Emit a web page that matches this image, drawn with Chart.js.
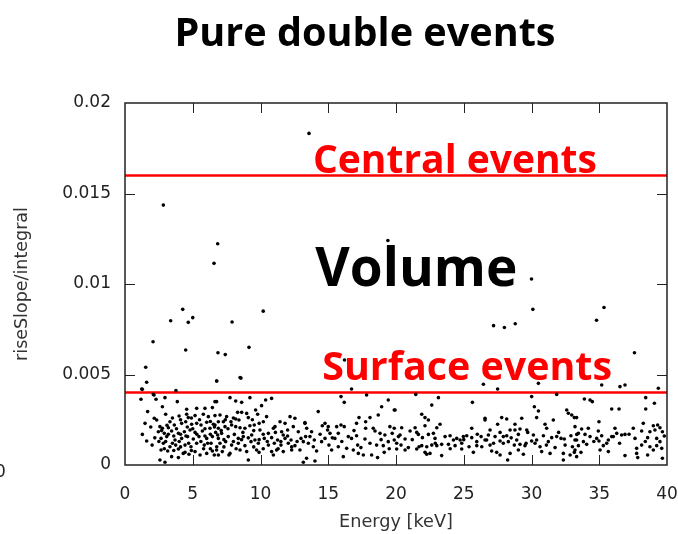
<!DOCTYPE html>
<html>
<head>
<meta charset="utf-8">
<script src="https://cdn.jsdelivr.net/npm/chart.js@4.4.1/dist/chart.umd.min.js"></script>
<style>
  html, body { margin: 0; padding: 0; background: #fff; }
  #wrap { width: 678px; height: 534px; }
</style>
</head>
<body>
<div id="wrap"><canvas id="plot" width="678" height="534"></canvas></div>
<script>
// values: [energy keV, riseSlope/integral]
var eventsHigh = [
	[13.58, 0.01832], [2.83, 0.01436], [6.84, 0.01222], [6.57, 0.01114], [19.4, 0.0124],
	[30.0, 0.01028], [2.07, 0.00681], [4.26, 0.0086], [5.0, 0.00814], [4.67, 0.00788],
	[3.37, 0.00797], [4.48, 0.00635], [1.53, 0.0054], [1.23, 0.0042], [2.14, 0.00387],
	[7.9, 0.0079], [10.2, 0.0085], [6.86, 0.0062], [7.4, 0.0061], [9.15, 0.0065],
	[8.56, 0.0048], [30.1, 0.0086], [27.2, 0.0077], [28.0, 0.0076], [28.8, 0.0078],
	[35.35, 0.0087], [34.8, 0.008], [37.6, 0.0062], [16.2, 0.0058]
];

var events0to7 = [
	[1.60, 0.00457], [6.77, 0.00464], [1.28, 0.00418], [2.09, 0.0039], [3.76, 0.00411], [1.18, 0.00363],
	[2.29, 0.00363], [2.95, 0.00372], [3.86, 0.0035], [6.64, 0.0035], [1.67, 0.00295], [2.76, 0.00322],
	[4.55, 0.00308], [5.29, 0.00313], [5.90, 0.00313], [6.45, 0.00317], [2.16, 0.00258], [2.34, 0.00249],
	[3.32, 0.00239], [3.99, 0.00271], [4.55, 0.0028], [4.67, 0.00262], [5.17, 0.00273], [5.78, 0.0028],
	[6.15, 0.00267], [6.64, 0.00273], [1.48, 0.0023], [2.58, 0.00212], [2.76, 0.00203], [3.20, 0.00206],
	[3.64, 0.00221], [4.18, 0.0023], [4.48, 0.00239], [4.92, 0.00225], [5.29, 0.0023], [5.61, 0.00221],
	[6.03, 0.00236], [6.52, 0.00225], [6.89, 0.00239], [2.46, 0.00184], [2.90, 0.00175], [3.44, 0.00188],
	[3.94, 0.00175], [4.38, 0.00184], [4.80, 0.00193], [5.17, 0.0018], [5.71, 0.00188], [6.27, 0.00203],
	[6.69, 0.0018], [1.28, 0.00169], [2.66, 0.00147], [3.08, 0.00157], [3.69, 0.00138], [4.18, 0.00147],
	[4.62, 0.00157], [5.04, 0.00144], [5.46, 0.00157], [6.03, 0.00147], [6.45, 0.00157], [6.89, 0.00147],
	[1.60, 0.00133], [2.83, 0.0012], [3.32, 0.00101], [3.74, 0.0011], [4.43, 0.0011], [4.87, 0.00101],
	[5.29, 0.0012], [5.85, 0.0011], [6.35, 0.0012], [6.77, 0.00101], [2.66, 0.00083], [3.15, 0.00077],
	[3.94, 0.00088], [4.30, 0.00064], [4.72, 0.00059], [5.17, 0.00074], [5.54, 0.00055], [6.03, 0.00064],
	[6.59, 0.00055], [3.44, 0.00046], [3.94, 0.00041], [2.58, 0.00028], [2.95, 0.00015], [4.43, 0.0007],
	[6.45, 0.00077], [3.0, 0.0028], [3.5, 0.0026], [4.1, 0.0025], [4.9, 0.0026], [5.5, 0.0025],
	[6.3, 0.0024], [3.1, 0.0022], [3.8, 0.0020], [4.6, 0.0021], [5.0, 0.0020], [5.9, 0.0020],
	[6.6, 0.0021], [2.7, 0.0019], [3.2, 0.0017], [3.6, 0.0016], [4.1, 0.0017], [4.5, 0.0016],
	[5.3, 0.0017], [5.9, 0.0016], [6.3, 0.0017], [2.5, 0.0013], [3.0, 0.0013], [3.5, 0.0012],
	[4.0, 0.0013], [4.7, 0.0012], [5.6, 0.0013], [6.1, 0.0012], [2.9, 0.0009], [3.6, 0.0008],
	[4.1, 0.0010], [4.9, 0.0008], [5.8, 0.0009], [6.3, 0.0009], [2.2, 0.0015], [2.0, 0.0011], [1.9, 0.0021]
];

var events7to13 = [
	[8.49, 0.00483], [6.76, 0.00464], [7.75, 0.00372], [8.17, 0.00354], [8.61, 0.00346], [9.22, 0.00372],
	[10.38, 0.00359], [10.82, 0.00368], [9.64, 0.00304], [10.08, 0.00328], [6.76, 0.0035], [7.01, 0.00276],
	[7.50, 0.00267], [8.31, 0.00291], [8.61, 0.00291], [8.98, 0.00285], [9.10, 0.00262], [8.17, 0.00254],
	[8.41, 0.00249], [7.82, 0.00239], [7.26, 0.00239], [9.79, 0.0028], [10.45, 0.00267], [10.21, 0.00239],
	[9.54, 0.00221], [11.07, 0.00212], [11.44, 0.00239], [11.81, 0.0023], [12.18, 0.00267], [12.54, 0.00258],
	[13.28, 0.0023], [6.64, 0.00221], [6.89, 0.00203], [7.38, 0.00212], [7.87, 0.00221], [8.17, 0.00212],
	[8.49, 0.00206], [8.85, 0.00203], [9.22, 0.00217], [9.96, 0.00193], [10.58, 0.00175], [10.95, 0.00203],
	[11.56, 0.00184], [12.00, 0.00193], [12.42, 0.00212], [12.79, 0.00184], [13.41, 0.00203], [6.84, 0.00166],
	[7.13, 0.00175], [7.62, 0.00157], [8.07, 0.00169], [8.36, 0.00147], [8.73, 0.00157], [9.35, 0.00166],
	[9.59, 0.00138], [10.28, 0.00147], [10.82, 0.00151], [11.26, 0.00138], [11.68, 0.00166], [11.81, 0.00147],
	[12.25, 0.00138], [12.99, 0.00147], [13.33, 0.00157], [7.01, 0.0012], [7.43, 0.00129], [7.87, 0.0011],
	[8.36, 0.0012], [8.85, 0.00107], [9.30, 0.00129], [9.84, 0.0012], [10.58, 0.0011], [11.02, 0.0012],
	[11.51, 0.0011], [12.05, 0.0012], [12.54, 0.00107], [13.16, 0.00129], [6.76, 0.00083], [7.18, 0.00074],
	[7.75, 0.00064], [8.49, 0.00083], [8.98, 0.00074], [9.71, 0.00083], [9.89, 0.0007], [10.82, 0.00074],
	[11.19, 0.00083], [11.68, 0.00074], [12.30, 0.00083], [12.91, 0.00083], [6.89, 0.00055], [7.67, 0.00055],
	[9.10, 0.00028], [10.95, 0.00055], [13.16, 0.00015], [7.4, 0.0025], [8.0, 0.0026], [9.4, 0.0025],
	[9.9, 0.0023], [7.1, 0.0019], [7.6, 0.0020], [8.7, 0.0018], [9.5, 0.0019], [10.2, 0.0017],
	[11.1, 0.0018], [7.3, 0.0014], [8.0, 0.0013], [8.6, 0.0014], [9.1, 0.0015], [9.9, 0.0014],
	[10.5, 0.0013], [11.5, 0.0013], [12.0, 0.0016], [7.3, 0.0010], [8.2, 0.0009], [9.5, 0.0010],
	[10.2, 0.0009], [11.3, 0.0009], [12.3, 0.0010], [12.7, 0.0013]
];

var events13to20 = [
	[16.72, 0.0042], [15.94, 0.00378], [17.83, 0.00387], [16.18, 0.00346], [19.43, 0.00359], [18.94, 0.00322],
	[14.26, 0.00295], [19.87, 0.00304], [18.69, 0.00276], [17.27, 0.00262], [18.08, 0.00262], [13.28, 0.00234],
	[14.76, 0.0023], [14.56, 0.00217], [15.00, 0.00212], [15.62, 0.00212], [15.94, 0.00221], [16.18, 0.00212],
	[17.09, 0.0023], [17.76, 0.00239], [17.76, 0.00203], [18.32, 0.00203], [18.45, 0.00188], [19.55, 0.00212],
	[19.87, 0.00203], [13.77, 0.00184], [14.95, 0.00193], [15.13, 0.00175], [15.74, 0.00175], [16.48, 0.00157],
	[17.09, 0.00162], [17.71, 0.00144], [18.82, 0.00175], [19.18, 0.00166], [19.72, 0.00175], [13.65, 0.00157],
	[13.97, 0.00138], [14.76, 0.00147], [15.49, 0.00147], [15.74, 0.00101], [16.36, 0.00092], [16.72, 0.00147],
	[17.17, 0.0011], [17.41, 0.00096], [18.08, 0.0012], [18.57, 0.0011], [19.06, 0.00107], [19.43, 0.00129],
	[19.87, 0.00138], [13.53, 0.0012], [13.90, 0.00101], [14.51, 0.00129], [15.05, 0.0011], [15.25, 0.00083],
	[16.85, 0.00083], [17.22, 0.00064], [17.59, 0.00055], [18.20, 0.00055], [18.64, 0.00041], [19.13, 0.0007],
	[20.05, 0.00088], [14.14, 0.00077], [16.11, 0.00046], [14.02, 0.00022], [13.40, 0.00037], [14.4, 0.0017],
	[15.3, 0.0015], [16.0, 0.0013], [16.9, 0.0019], [18.9, 0.0014], [19.5, 0.0009]
];

var events20to27 = [
	[21.46, 0.0039], [26.45, 0.00446], [23.13, 0.00372], [22.64, 0.00331], [25.64, 0.00346], [19.93, 0.00304],
	[21.90, 0.0028], [22.14, 0.00262], [22.39, 0.00249], [26.57, 0.00249], [20.42, 0.00206], [21.41, 0.00206],
	[22.14, 0.00217], [23.25, 0.00225], [23.01, 0.00206], [25.59, 0.00203], [21.04, 0.00188], [21.53, 0.0018],
	[21.65, 0.00169], [22.39, 0.00169], [22.76, 0.00175], [23.99, 0.00162], [24.48, 0.00147], [24.97, 0.00157],
	[25.22, 0.00162], [25.59, 0.00151], [26.28, 0.00157], [20.18, 0.00157], [20.30, 0.00166], [20.67, 0.00144],
	[21.95, 0.00151], [22.88, 0.00147], [23.62, 0.00157], [24.24, 0.00138], [24.73, 0.00138], [25.96, 0.00129],
	[26.57, 0.00138], [20.05, 0.0012], [20.37, 0.0011], [20.91, 0.00096], [21.70, 0.00101], [21.90, 0.00107],
	[22.27, 0.00101], [22.64, 0.0011], [23.01, 0.00107], [23.37, 0.00114], [23.87, 0.00114], [24.36, 0.00107],
	[24.85, 0.0012], [25.39, 0.00101], [25.96, 0.00107], [26.33, 0.00101], [20.67, 0.00083], [21.53, 0.00088],
	[22.14, 0.0007], [22.27, 0.00059], [22.51, 0.00064], [23.37, 0.00052], [24.85, 0.00088], [25.71, 0.0007],
	[21.2, 0.0014], [22.9, 0.0012], [24.0, 0.0009], [25.0, 0.0014], [26.0, 0.0017]
];

var events27to33 = [
	[27.50, 0.0042], [30.51, 0.00451], [31.86, 0.0039], [30.01, 0.00378], [30.21, 0.00322], [30.51, 0.00298],
	[30.38, 0.00262], [32.60, 0.00304], [32.72, 0.00286], [32.97, 0.00276], [33.16, 0.00262], [27.80, 0.00262],
	[28.17, 0.00254], [29.28, 0.00258], [31.61, 0.00249], [31.00, 0.00225], [26.57, 0.00258], [27.50, 0.00225],
	[28.78, 0.00225], [31.12, 0.00203], [26.94, 0.00193], [27.68, 0.0018], [28.42, 0.00193], [28.78, 0.00193],
	[29.15, 0.00199], [29.65, 0.00193], [29.72, 0.0018], [26.82, 0.00166], [27.31, 0.00157], [27.92, 0.00157],
	[28.17, 0.00162], [29.03, 0.00169], [30.14, 0.00166], [30.88, 0.00162], [31.49, 0.00151], [31.86, 0.00157],
	[32.18, 0.00147], [32.42, 0.00144], [32.91, 0.00162], [33.34, 0.00169], [26.69, 0.00138], [27.68, 0.00133],
	[28.29, 0.00129], [28.91, 0.00138], [30.01, 0.00133], [30.38, 0.00138], [31.24, 0.00129], [33.21, 0.00138],
	[26.94, 0.0011], [27.92, 0.0012], [28.73, 0.0011], [29.15, 0.00114], [29.52, 0.00107], [30.26, 0.0012],
	[30.63, 0.00101], [31.74, 0.00096], [32.48, 0.0011], [33.02, 0.00101], [27.06, 0.00077], [27.43, 0.0007],
	[27.68, 0.00055], [28.42, 0.00064], [29.03, 0.00083], [29.40, 0.00059], [30.75, 0.00074], [31.37, 0.00064],
	[32.35, 0.00064], [32.85, 0.00055], [33.16, 0.0007], [28.24, 0.00028], [32.35, 0.00028], [27.2, 0.0012],
	[28.5, 0.0015], [29.6, 0.0012], [31.1, 0.0011], [32.0, 0.0018]
];

var events33to40 = [
	[35.18, 0.00442], [36.53, 0.00433], [36.90, 0.00442], [39.36, 0.00424], [33.90, 0.00365], [34.32, 0.00359],
	[34.49, 0.0035], [38.43, 0.00372], [39.07, 0.00341], [35.92, 0.00309], [36.46, 0.00309], [38.43, 0.00309],
	[33.33, 0.00262], [34.98, 0.00239], [36.16, 0.00203], [37.51, 0.00203], [38.25, 0.0023], [38.99, 0.00217],
	[39.31, 0.00221], [39.48, 0.00206], [33.21, 0.00212], [33.70, 0.00199], [34.19, 0.00203], [33.46, 0.00175],
	[33.95, 0.00169], [34.32, 0.00157], [34.93, 0.00188], [35.18, 0.00162], [35.92, 0.00157], [36.29, 0.00175],
	[36.65, 0.00166], [36.90, 0.00169], [38.13, 0.00188], [38.74, 0.00184], [39.11, 0.00193], [39.66, 0.00184],
	[33.33, 0.00138], [33.83, 0.00129], [34.81, 0.00147], [34.98, 0.00133], [35.67, 0.00138], [36.04, 0.00157],
	[37.64, 0.00147], [38.57, 0.00151], [39.24, 0.00147], [39.48, 0.00129], [33.46, 0.00107], [34.07, 0.00114],
	[35.30, 0.00107], [35.55, 0.0012], [37.76, 0.00092], [38.13, 0.0011], [38.74, 0.00101], [39.24, 0.00107],
	[39.61, 0.00092], [33.21, 0.00083], [33.65, 0.0007], [35.06, 0.00083], [35.67, 0.00074], [37.76, 0.00064],
	[38.99, 0.00083], [33.33, 0.00046], [36.90, 0.00052], [37.84, 0.00041], [38.57, 0.00055], [39.66, 0.00037],
	[34.6, 0.0013], [36.5, 0.0012], [37.2, 0.0017], [38.4, 0.0013], [39.8, 0.0016]
];

var cutLevels = [0.016, 0.004];
var energyRange = [0, 40];
var xTickValues = [0, 5, 10, 15, 20, 25, 30, 35, 40];
var yTickValues = [0, 0.005, 0.01, 0.015, 0.02];

var chartTitle = "Pure double events";
var regionNames = ["Central events", "Volume", "Surface events"];

function toPoints(list) {
	return list.map(function(p) { return { x : p[0], y : p[1] }; });
}

var allEvents = [].concat(eventsHigh, events0to7, events7to13, events13to20, events20to27, events27to33, events33to40);

var cutSets = cutLevels.map(function(level) {
	return {
		type : "line",
		data : [ { x : energyRange[0], y : level }, { x : energyRange[1], y : level } ],
		borderColor : "#ff0000",
		borderWidth : 2.5,
		pointRadius : 0,
		fill : false,
		order : 2
	};
});

// bold text squeezed or stretched to the width it has in the slide
function fitText(ctx, text, width, cx, baseline) {
	ctx.font = "bold 100px 'Open Sans'";
	var size = 100 * width / ctx.measureText(text).width;
	ctx.font = "bold " + size.toFixed(1) + "px 'Open Sans'";
	ctx.fillText(text, cx, baseline);
}

// frame with inward ticks on all four sides, like gnuplot
var framePlugin = {
	id : "frame",
	afterDatasetsDraw : function(chart) {
		var ctx = chart.ctx, a = chart.chartArea, x = chart.scales.x, y = chart.scales.y;
		ctx.save();
		ctx.strokeStyle = "#222";
		ctx.lineWidth = 1;
		ctx.beginPath();
		xTickValues.forEach(function(v) {
			if (v <= energyRange[0] || v >= energyRange[1]) return;
			var px = Math.round(x.getPixelForValue(v)) + 0.5;
			ctx.moveTo(px, a.bottom); ctx.lineTo(px, a.bottom - 10);
			ctx.moveTo(px, a.top); ctx.lineTo(px, a.top + 10);
		});
		yTickValues.forEach(function(v) {
			if (v <= 0 || v >= 0.02) return;
			var py = Math.round(y.getPixelForValue(v)) + 0.5;
			ctx.moveTo(a.left, py); ctx.lineTo(a.left + 10, py);
			ctx.moveTo(a.right, py); ctx.lineTo(a.right - 10, py);
		});
		ctx.stroke();
		ctx.lineWidth = 1.5;
		ctx.strokeRect(a.left, a.top, a.right - a.left, a.bottom - a.top);
		ctx.restore();
	}
};

var labelPlugin = {
	id : "labels",
	afterDraw : function(chart) {
		var ctx = chart.ctx, x = chart.scales.x, y = chart.scales.y;
		ctx.save();
		ctx.textAlign = "center";
		ctx.textBaseline = "alphabetic";

		ctx.fillStyle = "#000";
		fitText(ctx, chartTitle, 381, 365, 46);

		ctx.fillStyle = "#ff0000";
		fitText(ctx, regionNames[0], 284, x.getPixelForValue(24.35), y.getPixelForValue(0.01615));
		fitText(ctx, regionNames[2], 290, x.getPixelForValue(25.25), y.getPixelForValue(0.0047));

		ctx.fillStyle = "#000";
		fitText(ctx, regionNames[1], 202, x.getPixelForValue(21.5), y.getPixelForValue(0.0099));

		// clipped tick label of the neighbouring panel
		ctx.fillStyle = "#222";
		ctx.font = "17px 'DejaVu Sans'";
		ctx.textAlign = "left";
		ctx.fillText("0", -5, 477);
		ctx.restore();
	}
};

var ctx = document.getElementById("plot");

var chart = new Chart(ctx, {
	type : "scatter",
	data : {
		datasets : [
			{
				label : "events",
				data : toPoints(allEvents),
				backgroundColor : "#000",
				borderWidth : 0,
				pointRadius : 1.8,
				order : 1
			}
		].concat(cutSets)
	},
	options : {
		responsive : false,
		animation : false,
		layout : {
			padding : { top : 103, right : 11, left : 0, bottom : 0 }
		},
		plugins : {
			legend : { display : false },
			tooltip : { enabled : false }
		},
		scales : {
			x : {
				type : "linear",
				min : energyRange[0],
				max : energyRange[1],
				afterBuildTicks : function(scale) {
					scale.ticks = xTickValues.map(function(v) { return { value : v }; });
				},
				afterFit : function(scale) {
					scale.height = 69;
					scale.paddingLeft = 0;
					scale.paddingRight = 0;
				},
				grid : { display : false },
				border : { display : false },
				ticks : {
					padding : 11,
					color : "#222",
					font : { family : "DejaVu Sans", size : 17 },
					maxRotation : 0
				},
				title : {
					display : true,
					text : "Energy [keV]",
					color : "#333",
					font : { family : "DejaVu Sans", size : 17.7 },
					padding : { top : 0, bottom : 1 }
				}
			},
			y : {
				min : 0,
				max : 0.02,
				afterBuildTicks : function(scale) {
					scale.ticks = yTickValues.map(function(v) { return { value : v }; });
				},
				afterFit : function(scale) { scale.width = 125; },
				grid : { display : false },
				border : { display : false },
				ticks : {
					padding : 6,
					color : "#222",
					font : { family : "DejaVu Sans", size : 17 },
					callback : function(v) { return String(+v.toFixed(3)); }
				},
				title : {
					display : true,
					text : "riseSlope/integral",
					color : "#333",
					font : { family : "DejaVu Sans", size : 17.5 },
					padding : { top : 12, bottom : 0 }
				}
			}
		}
	},
	plugins : [framePlugin, labelPlugin]
});
</script>
</body>
</html>
